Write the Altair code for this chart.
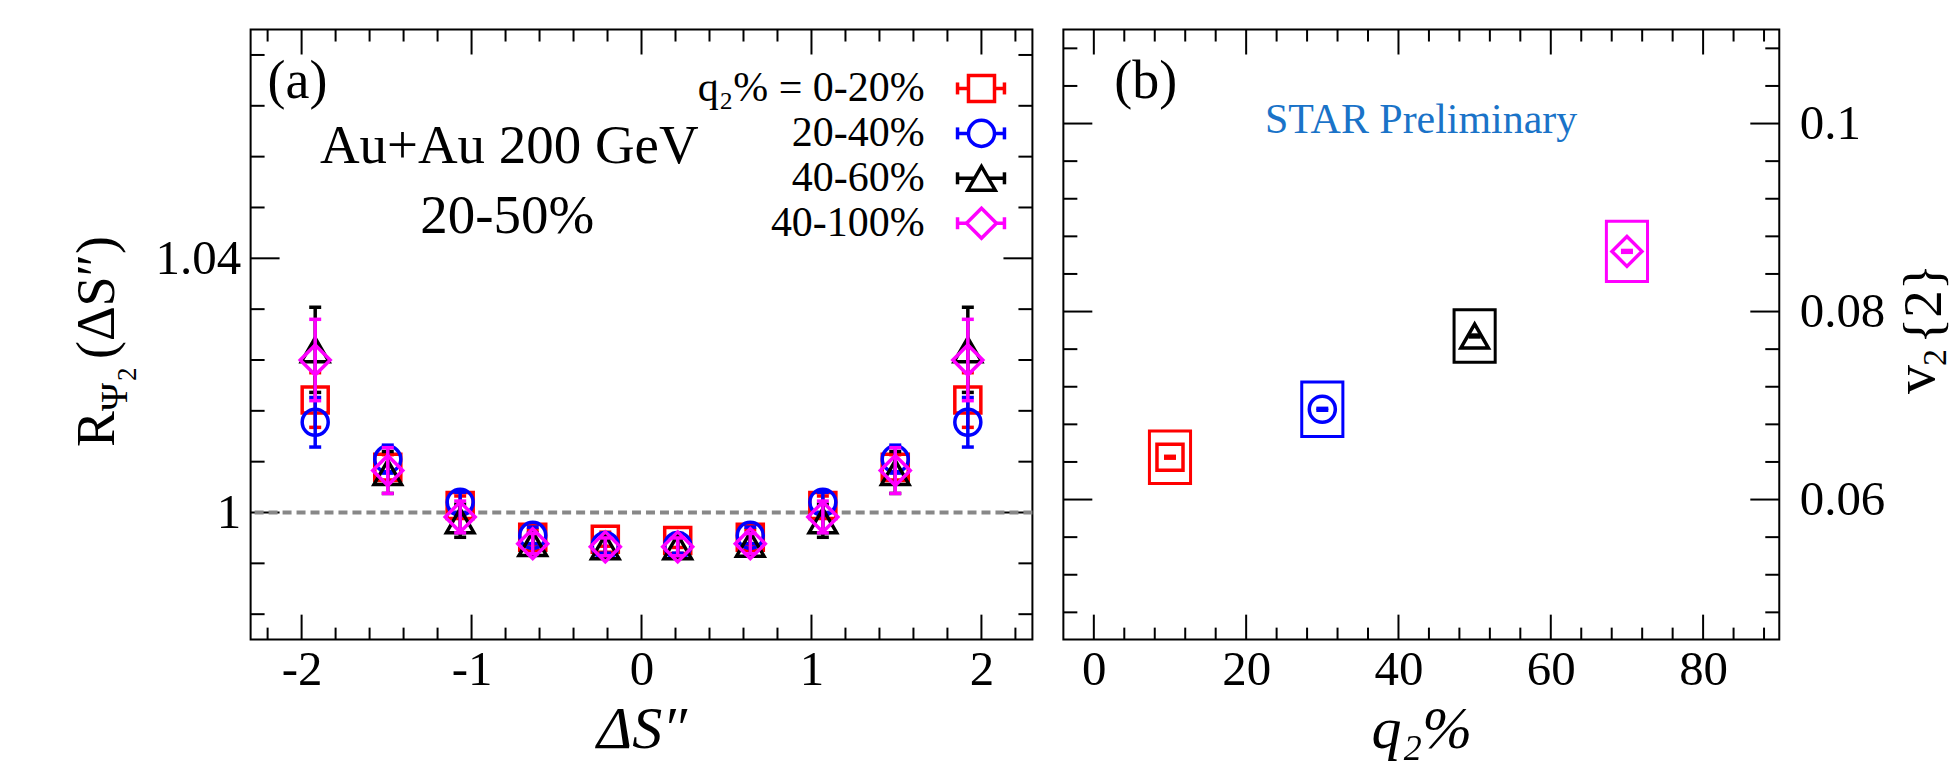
import altair as alt
import pandas as pd

FONT = "Liberation Serif"

# ---------------- data: panel (a) ----------------
series_names = ["0-20%", "20-40%", "40-60%", "40-100%"]
legend_labels = ["q\u2082% = 0-20%", "20-40%", "40-60%", "40-100%"]

ds_values = [-1.92, -1.493, -1.067, -0.64, -0.213, 0.213, 0.64, 1.067, 1.493, 1.92]
r_0_20 = [1.0177, 1.0071, 1.0011, 0.9961, 0.9958, 0.9956, 0.9961, 1.0011, 1.0071, 1.0177]
e_0_20 = [0.0043, 0.0020, 0.0015, 0.0012, 0.0011, 0.0011, 0.0012, 0.0015, 0.0020, 0.0043]
r_20_40 = [1.0142, 1.0084, 1.0016, 0.9964, 0.9948, 0.9948, 0.9964, 1.0016, 1.0084, 1.0142]
e_20_40 = [0.0039, 0.0022, 0.0016, 0.0013, 0.0012, 0.0012, 0.0013, 0.0016, 0.0022, 0.0039]
r_40_60 = [1.0256, 1.0063, 0.9987, 0.9951, 0.9946, 0.9946, 0.9950, 0.9987, 1.0063, 1.0256]
e_40_60 = [0.0067, 0.0033, 0.0026, 0.0017, 0.0015, 0.0015, 0.0017, 0.0026, 0.0033, 0.0067]
r_40_100 = [1.0240, 1.0066, 0.9993, 0.9951, 0.9946, 0.9946, 0.9951, 0.9993, 1.0066, 1.0240]
e_40_100 = [0.0064, 0.0036, 0.0025, 0.0016, 0.0014, 0.0014, 0.0016, 0.0025, 0.0036, 0.0064]

# ---------------- data: panel (b) ----------------
q2_centers = [10, 30, 50, 70]
v2_vals = [0.0645, 0.0696, 0.0774, 0.0864]
v2_stat = [0.0001, 0.0001, 0.0001, 0.0001]
v2_sys = [0.0028, 0.0029, 0.0028, 0.0032]

# ---------------- axis ticks / labels ----------------
xa_major = [-2, -1, 0, 1, 2]
xa_minor = [-2.2, -1.8, -1.6, -1.4, -1.2, -0.8, -0.6, -0.4, -0.2,
            0.2, 0.4, 0.6, 0.8, 1.2, 1.4, 1.6, 1.8, 2.2]
ya_major = [1.0, 1.04]
ya_minor = [0.984, 0.992, 1.008, 1.016, 1.024, 1.032, 1.048, 1.056, 1.064, 1.072]
xb_major = [0, 20, 40, 60, 80]
xb_minor = [4, 8, 12, 16, 24, 28, 32, 36, 44, 48, 52, 56, 64, 68, 72, 76, 84, 88]
yb_major = [0.06, 0.08, 0.1]
yb_minor = [0.048, 0.052, 0.056, 0.064, 0.068, 0.072, 0.076,
            0.084, 0.088, 0.092, 0.096, 0.104, 0.108]

# ---------------- styles ----------------
colors = ["#ff0000", "#0000ff", "#000000", "#ff00ff"]
shapes = ["square", "circle", "triangle-up", "diamond"]
sizes = [680, 680, 760, 900]
STAR_BLUE = "#1a73c8"
BOX_HALF = 2.7

W_A, W_B, H = 783, 717, 611

sx_a = alt.Scale(domain=[-2.3, 2.3], nice=False, zero=False)
sy_a = alt.Scale(domain=[0.980, 1.076], nice=False, zero=False)
sx_b = alt.Scale(domain=[-4.0, 90.0], nice=False, zero=False)
sy_b = alt.Scale(domain=[0.0451, 0.110], nice=False, zero=False)


def lab_axis(values, **kw):
    base = dict(values=values, labelExpr="datum.value + ''", ticks=False, domain=False,
                grid=False, labelFont=FONT, labelFontSize=49, labelColor="black",
                labelFlush=False, labelOverlap=False)
    base.update(kw)
    return alt.Axis(**base)


ax_xa = lab_axis(xa_major, labelPadding=6, title="\u0394S\u2033", titleFont=FONT,
                 titleFontSize=60, titleFontStyle="italic", titleFontWeight="normal",
                 titleColor="black", titlePadding=6)
ay_a = lab_axis(ya_major, labelPadding=10, title=None)
ax_xb = lab_axis(xb_major, labelPadding=6, title="q\u2082%", titleFont=FONT,
                 titleFontSize=60, titleFontStyle="italic", titleFontWeight="normal",
                 titleColor="black", titlePadding=6)
ay_b = lab_axis(yb_major, labelPadding=20, title=None, orient="right")

PANEL = {
    "a": dict(sx=sx_a, sy=sy_a, ax=ax_xa, ay=ay_a, W=W_A),
    "b": dict(sx=sx_b, sy=sy_b, ax=ax_xb, ay=ay_b, W=W_B),
}


def X(p, field):
    return alt.X(field, scale=PANEL[p]["sx"], axis=PANEL[p]["ax"])


def Y(p, field):
    return alt.Y(field, scale=PANEL[p]["sy"], axis=PANEL[p]["ay"])


def edge_ticks(p, values, channel, side, length):
    W = PANEL[p]["W"]
    df = pd.DataFrame({"v": values})
    m = alt.Chart(df).mark_rule(color="black", strokeWidth=2)
    if channel == "x":
        enc = {"x": X(p, "v:Q")}
        if side == "bottom":
            enc["y"] = alt.value(H)
            enc["y2"] = alt.value(H - length)
        else:
            enc["y"] = alt.value(0)
            enc["y2"] = alt.value(length)
    else:
        enc = {"y": Y(p, "v:Q")}
        if side == "left":
            enc["x"] = alt.value(0)
            enc["x2"] = alt.value(length)
        else:
            enc["x"] = alt.value(W)
            enc["x2"] = alt.value(W - length)
    return m.encode(**enc)


def text_layer(txt, x, y, size, **kw):
    color = kw.pop("color", "black")
    return alt.Chart(pd.DataFrame({"t": [txt]})).mark_text(
        font=FONT, fontSize=size, color=color, **kw
    ).encode(text="t:N", x=alt.value(x), y=alt.value(y))


one = pd.DataFrame({"a": [0]})

# ================= panel (a) =================
layers_a = [
    alt.Chart(one).mark_rule(opacity=0).encode(x=alt.value(-250)),
    alt.Chart(one).mark_rule(opacity=0).encode(y=alt.value(-28)),
    alt.Chart(one).mark_rule(opacity=0).encode(y=alt.value(736)),
    edge_ticks("a", xa_major, "x", "bottom", 25),
    edge_ticks("a", xa_minor, "x", "bottom", 12),
    edge_ticks("a", xa_major, "x", "top", 25),
    edge_ticks("a", xa_minor, "x", "top", 12),
    edge_ticks("a", ya_major, "y", "left", 29),
    edge_ticks("a", ya_minor, "y", "left", 14),
    edge_ticks("a", ya_major, "y", "right", 29),
    edge_ticks("a", ya_minor, "y", "right", 14),
    alt.Chart(pd.DataFrame({"y": [1.0]})).mark_rule(
        color="#888888", strokeWidth=4, strokeDash=[9, 5]
    ).encode(y=Y("a", "y:Q")),
]

rows = []
for name, vals, errs in zip(series_names, [r_0_20, r_20_40, r_40_60, r_40_100],
                            [e_0_20, e_20_40, e_40_60, e_40_100]):
    for xv, v, e in zip(ds_values, vals, errs):
        rows.append({"series": name, "x": xv, "r": v, "lo": v - e, "hi": v + e})
df_a = pd.DataFrame(rows)

for name, c, shp, sz in zip(series_names, colors, shapes, sizes):
    base = alt.Chart(df_a[df_a["series"] == name])
    layers_a.append(base.mark_rule(color=c, strokeWidth=3.5).encode(
        x=X("a", "x:Q"), y=Y("a", "lo:Q"), y2="hi:Q"))
    layers_a.append(base.transform_fold(["lo", "hi"], as_=["end", "yv"]).mark_tick(
        orient="horizontal", color=c, size=12, thickness=3.5, opacity=1).encode(
        x=X("a", "x:Q"), y=Y("a", "yv:Q")))
    layers_a.append(base.mark_point(shape=shp, size=sz, filled=False, color=c,
                                    strokeWidth=3.5, opacity=1).encode(
        x=X("a", "x:Q"), y=Y("a", "r:Q")))

# legend (manual, symbols to the right of labels)
leg = pd.DataFrame({"label": legend_labels, "series": series_names, "row": [0, 1, 2, 3]})
LEG_Y0, LEG_DY, LEG_X, LEG_TX = 59, 45, 732, 675
for name, c, shp, sz in zip(series_names, colors, shapes, sizes):
    b = alt.Chart(leg[leg["series"] == name]).transform_calculate(
        ly=f"{LEG_Y0} + {LEG_DY} * datum.row", ty=f"{LEG_Y0 + 13} + {LEG_DY} * datum.row")
    yenc = alt.Y("ly:Q", scale=None, axis=None)
    layers_a.append(b.mark_rule(color=c, strokeWidth=3.5).encode(
        x=alt.value(LEG_X - 24), x2=alt.value(LEG_X + 23), y=yenc))
    for cx in (LEG_X - 24, LEG_X + 23):
        layers_a.append(b.mark_tick(orient="vertical", color=c, size=12, thickness=3.5,
                                    opacity=1).encode(x=alt.value(cx), y=yenc))
    layers_a.append(b.mark_point(shape=shp, size=sz, filled=False, color=c, strokeWidth=3.5,
                                 opacity=1, fill="white").encode(x=alt.value(LEG_X), y=yenc))
    layers_a.append(b.mark_text(align="right", baseline="alphabetic", font=FONT, fontSize=42,
                                color="black").encode(
        x=alt.value(LEG_TX), y=alt.Y("ty:Q", scale=None, axis=None), text="label:N"))

layers_a += [
    text_layer("(a)", 17, 69, 54, align="left", baseline="alphabetic"),
    text_layer("Au+Au 200 GeV", 259, 134, 55, align="center", baseline="alphabetic"),
    text_layer("20-50%", 257, 204, 55, align="center", baseline="alphabetic"),
    # y title  R_{Psi_2}(dS'')
    text_layer("R", -137, 418, 54, align="left", baseline="alphabetic", angle=270),
    text_layer("\u03a8", -124, 382, 38, align="left", baseline="alphabetic", angle=270),
    text_layer("2", -115, 352, 27, align="left", baseline="alphabetic", angle=270),
    text_layer("(\u0394S\u2033)", -137, 330, 54, align="left", baseline="alphabetic", angle=270),
]

panel_a = alt.layer(*layers_a).properties(width=W_A, height=H)

# ================= panel (b) =================
layers_b = [
    alt.Chart(one).mark_rule(opacity=0).encode(x=alt.value(890)),
    edge_ticks("b", xb_major, "x", "bottom", 25),
    edge_ticks("b", xb_minor, "x", "bottom", 12),
    edge_ticks("b", xb_major, "x", "top", 25),
    edge_ticks("b", xb_minor, "x", "top", 12),
    edge_ticks("b", yb_major, "y", "right", 29),
    edge_ticks("b", yb_minor, "y", "right", 14),
    edge_ticks("b", yb_major, "y", "left", 29),
    edge_ticks("b", yb_minor, "y", "left", 14),
]

df_b = pd.DataFrame({"series": series_names, "q2": q2_centers, "v2": v2_vals,
                     "stat": v2_stat, "sys": v2_sys})
for name, c, shp, sz in zip(series_names, colors, shapes, sizes):
    base = alt.Chart(df_b[df_b["series"] == name]).transform_calculate(
        xl=f"datum.q2 - {BOX_HALF}", xh=f"datum.q2 + {BOX_HALF}",
        yl="datum.v2 - datum.sys", yh="datum.v2 + datum.sys",
        sl="datum.v2 - datum.stat", sh="datum.v2 + datum.stat")
    layers_b.append(base.mark_rect(filled=False, stroke=c, strokeWidth=3).encode(
        x=X("b", "xl:Q"), x2="xh:Q", y=Y("b", "yl:Q"), y2="yh:Q"))
    layers_b.append(base.mark_point(shape=shp, size=sz, filled=False, color=c,
                                    strokeWidth=3.5, opacity=1).encode(
        x=X("b", "q2:Q"), y=Y("b", "v2:Q")))
    layers_b.append(base.transform_fold(["sl", "sh"], as_=["end", "yv"]).mark_tick(
        orient="horizontal", color=c, size=12, thickness=3.5, opacity=1).encode(
        x=X("b", "q2:Q"), y=Y("b", "yv:Q")))

layers_b += [
    text_layer("(b)", 51, 69, 54, align="left", baseline="alphabetic"),
    text_layer("STAR Preliminary", 202, 104, 42, align="left", baseline="alphabetic",
               color=STAR_BLUE),
    text_layer("v", 872, 365, 58, align="left", baseline="alphabetic", angle=270),
    text_layer("2", 884, 337, 34, align="left", baseline="alphabetic", angle=270),
    text_layer("{2}", 879, 315, 55, align="left", baseline="alphabetic", angle=270),
]

panel_b = alt.layer(*layers_b).properties(width=W_B, height=H)

chart = alt.hconcat(panel_a, panel_b, spacing=31, bounds="flush").properties(
    padding={"left": 0, "top": 0, "right": 0, "bottom": 0}, background="white"
).configure_view(stroke="black", strokeWidth=2)

chart.save("out.html", embed_options={"renderer": "svg", "actions": False})
